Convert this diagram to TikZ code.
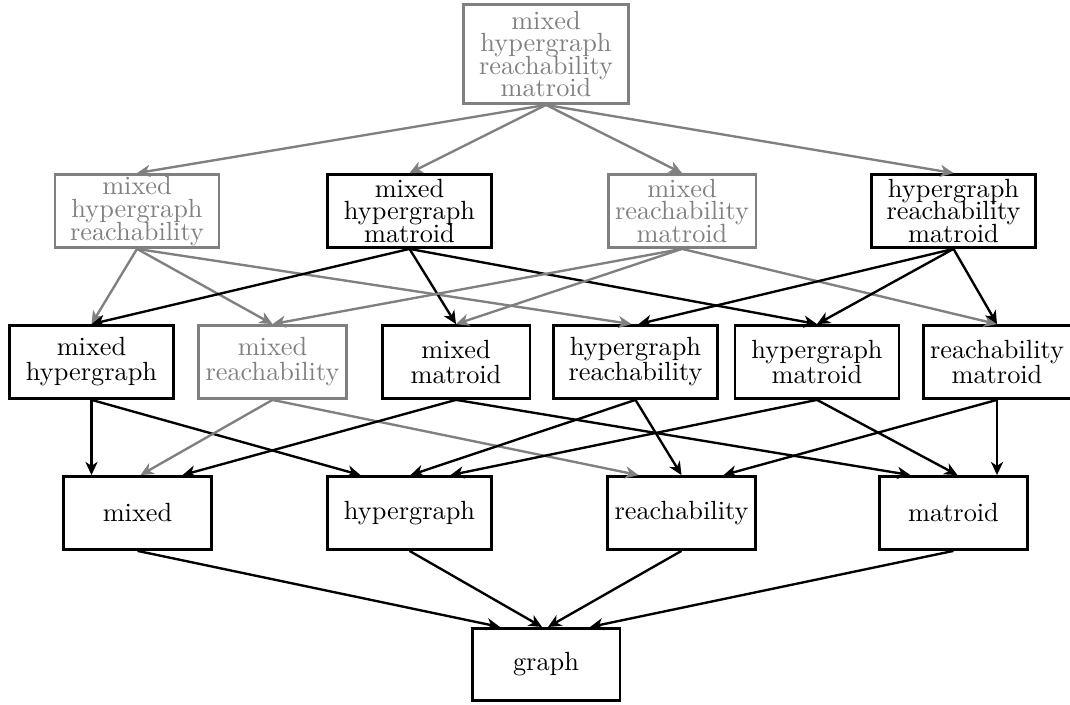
\documentclass[tikz,border=0pt]{standalone}
\usetikzlibrary{arrows.meta,calc}
\colorlet{dim}{black!50}
\begin{document}
\begin{tikzpicture}[x=0.38pt,y=-0.38pt,
  box/.style={draw=black, text=black, line width=1.1pt, align=center, inner sep=0pt,
    minimum height=27.7pt, minimum width=56.2pt,
    font=\fontsize{10}{8.6}\selectfont\setlength{\lineskiplimit}{-20pt}},
  wide/.style={minimum width=62.3pt},
  tworow/.style={font=\fontsize{10}{9.5}\selectfont\setlength{\lineskiplimit}{-20pt}},
  dimbox/.style={box, draw=dim, text=dim},
  arr/.style={-{Stealth[length=5pt,width=4.6pt,inset=1.5pt]}, line width=0.9pt, draw=black},
  dimarr/.style={arr, draw=dim}]
\useasboundingbox (0,0) rectangle (1070,705);

% top
\node[dimbox, wide, minimum width=62.7pt, minimum height=37.6pt] (top) at (546,54) {mixed\\hypergraph\\reachability\\matroid};
% row 2
\node[dimbox, wide] (mhr) at (137,211) {mixed\\hypergraph\\reachability};
\node[box, wide] (mhm) at (409.5,211) {mixed\\hypergraph\\matroid};
\node[dimbox] (mrm) at (682,211) {mixed\\reachability\\matroid};
\node[box, wide] (hrm) at (953.5,211) {hypergraph\\reachability\\matroid};
% row 3
\node[box, wide, tworow] (mh) at (91.5,362) {mixed\\hypergraph};
\node[dimbox, tworow] (mr) at (272.5,362) {mixed\\reachability};
\node[box, tworow] (mm) at (456,362) {mixed\\matroid};
\node[box, wide, tworow] (hr) at (635.5,362) {hypergraph\\reachability};
\node[box, wide, tworow] (hm) at (817,362) {hypergraph\\matroid};
\node[box, tworow] (rm) at (997,362) {reachability\\matroid};
% row 4
\node[box] (mixed) at (137.5,513) {mixed};
\node[box, wide] (hyp) at (409.5,513) {hypergraph};
\node[box] (reach) at (681.5,513) {reachability};
\node[box] (mat) at (953.5,513) {matroid};
% bottom
\node[box, minimum height=27.4pt] (graph) at (546,664.5) {graph};

% top -> row 2
\foreach \t in {mhr,mhm,mrm,hrm} \draw[dimarr] (top.south) -- (\t.north);
% row 2 -> row 3
\draw[dimarr] (mhr.south) -- (mh.north);
\draw[dimarr] (mhr.south) -- (mr.north);
\draw[dimarr] (mhr.south) -- ($(hr.north)+(-4,0)$);
\draw[arr] (mhm.south) -- (mh.north);
\draw[arr] (mhm.south) -- (mm.north);
\draw[arr] (mhm.south) -- (hm.north);
\draw[dimarr] (mrm.south) -- (mr.north);
\draw[dimarr] (mrm.south) -- (mm.north);
\draw[dimarr] (mrm.south) -- (rm.north);
\draw[arr] (hrm.south) -- ($(hr.north)+(3,0)$);
\draw[arr] (hrm.south) -- (hm.north);
\draw[arr] (hrm.south) -- (rm.north);
% row 3 -> row 4
\draw[arr] (mh.south) -- ($(mixed.north)+(-46,0)$);
\draw[arr] (mh.south) -- ($(hyp.north)+(-49,0)$);
\draw[dimarr] (mr.south) -- ($(mixed.north)+(3,0)$);
\draw[dimarr] (mr.south) -- ($(reach.north)+(-43,0)$);
\draw[arr] (mm.south) -- ($(mixed.north)+(45,0)$);
\draw[arr] (mm.south) -- ($(mat.north)+(-43,0)$);
\draw[arr] (hr.south) -- ($(hyp.north)+(1,0)$);
\draw[arr] (hr.south) -- (reach.north);
\draw[arr] (hm.south) -- ($(hyp.north)+(41,0)$);
\draw[arr] (hm.south) -- ($(mat.north)+(4,0)$);
\draw[arr] (rm.south) -- ($(reach.north)+(42,0)$);
\draw[arr] (rm.south) -- ($(mat.north)+(43.5,0)$);
% row 4 -> graph
\draw[arr] (mixed.south) -- ($(graph.north)+(-46,0)$);
\draw[arr] (hyp.south) -- ($(graph.north)+(-4,0)$);
\draw[arr] (reach.south) -- ($(graph.north)+(2,0)$);
\draw[arr] (mat.south) -- ($(graph.north)+(44,0)$);
\end{tikzpicture}
\end{document}
